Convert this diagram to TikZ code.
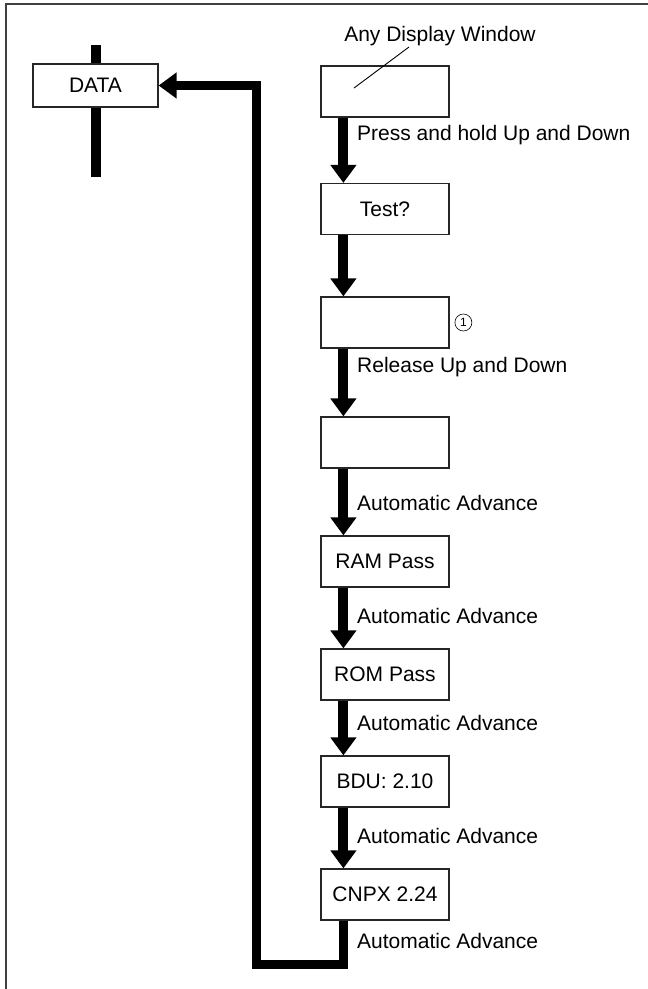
\documentclass[tikz,border=0pt]{standalone}
\usepackage{fontspec}
\setmainfont{Liberation Sans}
\usetikzlibrary{arrows.meta}
\usetikzlibrary{positioning}

\tikzset{
    box/.style={draw=black!85, line width=1.2pt, fill=white, minimum width=128pt, minimum height=51pt, inner sep=0pt},
    flow/.style={line width=10pt, -{Triangle[width=25pt,length=18pt]}},
    lbl/.style={anchor=base west, inner sep=0pt},
}

\begin{document}
\begin{tikzpicture}[x=1pt, y=-1pt, every node/.style={font=\fontsize{21}{25}\selectfont}]
        \useasboundingbox (0,0) rectangle (648,989);
        \draw[line width=1.5pt, black!75] (6,989) -- (6,4) -- (648,4);

        % DATA box with its bar
        \coordinate (bartop) at (96,45);
        \coordinate (barbot) at (96,177);
        \draw[line width=10pt] (bartop) -- (barbot);
        \node [box, minimum width=125pt, minimum height=43pt] (data) at (95.5,85.5) {DATA};

        % chain of display windows
        \foreach \i/\y/\txt in {1/91.5/{}, 2/209/Test?, 3/322.5/{}, 4/442.5/{}, 5/561.5/RAM Pass, 6/674.5/ROM Pass, 7/781.5/BDU: 2.10, 8/894.5/CNPX 2.24} {
            \node [box] (win\i) at (385,\y) {\txt};
        }
        \foreach \i/\j in {1/2, 2/3, 3/4, 4/5, 5/6, 6/7, 7/8} {
            \draw[flow] ([xshift=23pt]win\i.south west) -- ([xshift=23pt]win\j.north west);
        }

        % back to DATA
        \coordinate (loopcorner) at (256,964);
        \draw[flow, line width=9pt] ([xshift=23pt]win8.south west) |- (loopcorner) |- (data.east);

        % texts
        \node [anchor=base, inner sep=0pt] (anydisp) at (440,41) {Any Display Window};
        \coordinate (leadin) at (354,88);
        \coordinate (leadout) at (409,47);
        \draw[line width=0.9pt] (leadin) -- (leadout);
        \node [right=5pt of win3, circle, draw, line width=0.6pt, inner sep=0pt, minimum size=17pt, font=\fontsize{12}{14}\selectfont] (note) {1};
        \foreach \y/\txt in {140/Press and hold Up and Down, 372/Release Up and Down, 510/Automatic Advance, 623/Automatic Advance, 730/Automatic Advance, 843/Automatic Advance, 948/Automatic Advance} {
            \node [lbl] (step\y) at (357,\y) {\txt};
        }
    \end{tikzpicture}
\end{document}
